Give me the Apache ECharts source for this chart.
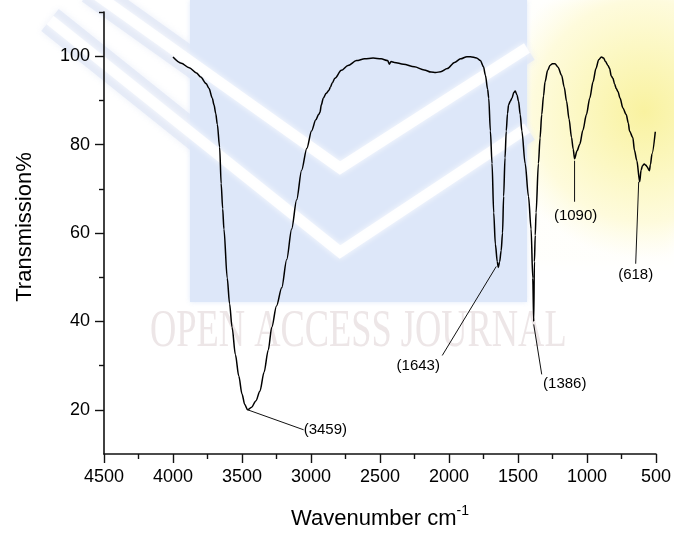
<!DOCTYPE html>
<html>
<head>
<meta charset="utf-8">
<script src="https://cdn.jsdelivr.net/npm/echarts@6/dist/echarts.min.js"></script>
<style>
  html, body { margin: 0; padding: 0; background: #ffffff; }
  #main { width: 674px; height: 535px; }
</style>
</head>
<body>
<div id="main"></div>
<script>
// FTIR spectrum: wavenumber (cm-1) against transmission (%)
const wavenumber = [
  4000, 3940, 3883, 3830, 3799, 3760, 3739, 3715, 3703, 3690, 3679, 3662, 3651, 3640, 3631,
  3607, 3590, 3572, 3548, 3523, 3500, 3480, 3459, 3430, 3400, 3370, 3340, 3310, 3284, 3250,
  3212, 3176, 3140, 3104, 3068, 3030, 2996, 2965, 2945, 2935, 2925, 2911, 2890, 2870, 2860,
  2845, 2827, 2780, 2732, 2670, 2611, 2550, 2492, 2445, 2431, 2420, 2396, 2330, 2251, 2180,
  2130, 2096, 2060, 2012, 1960, 1916, 1870, 1844, 1800, 1772, 1750, 1736, 1720, 1712, 1700,
  1688, 1676, 1664, 1650, 1643, 1633, 1622, 1612, 1604, 1594, 1585, 1576, 1568, 1556, 1544,
  1530, 1520, 1508, 1496, 1484, 1472, 1448, 1424, 1405, 1393, 1386, 1381, 1375, 1369, 1352,
  1340, 1328, 1315, 1304, 1285, 1268, 1250, 1232, 1210, 1184, 1165, 1148, 1130, 1112, 1100,
  1090, 1072, 1052, 1030, 1004, 980, 956, 935, 915, 896, 880, 866, 848, 836, 824,
  812, 800, 788, 776, 760, 740, 716, 700, 692, 668, 656, 639, 618, 608, 598,
  585, 572, 565, 548, 540, 529, 505
];
const transmission = [
  99.8, 98.4, 97.4, 96.2, 95.3, 93.8, 92.7, 90.5, 89.0, 87.0, 84.6, 79.4, 71.2, 65.5, 60.9,
  49.8, 44.0, 38.7, 32.5, 27.6, 23.6, 21.2, 20.0, 20.6, 22.0, 24.2, 28.5, 33.5, 38.7, 43.5,
  47.6, 54.0, 60.9, 67.5, 74.2, 79.2, 83.1, 85.6, 86.8, 87.3, 89.0, 90.5, 91.6, 92.3, 93.0,
  94.0, 95.0, 96.8, 97.9, 99.0, 99.4, 99.6, 99.4, 99.0, 98.2, 98.8, 98.6, 98.2, 97.6, 96.9,
  96.4, 96.3, 96.5, 97.2, 98.6, 99.4, 99.9, 99.9, 99.6, 99.0, 97.6, 95.7, 92.5, 90.5, 83.1,
  75.7, 64.6, 57.5, 53.5, 52.2, 53.5, 56.0, 60.0, 68.3, 77.0, 83.1, 87.0, 89.0, 89.8, 90.5,
  91.8, 92.1, 91.3, 89.8, 86.8, 83.1, 75.7, 68.3, 60.9, 49.8, 40.0, 53.5, 59.5, 64.6, 75.7,
  81.5, 86.8, 91.0, 94.2, 96.8, 97.9, 98.3, 98.3, 97.5, 95.7, 93.0, 89.8, 85.8, 81.6, 79.0,
  76.8, 78.6, 80.1, 83.2, 86.8, 90.5, 94.2, 97.2, 99.2, 99.8, 99.6, 98.8, 97.9, 97.2, 95.5,
  95.0, 93.7, 92.7, 92.0, 90.5, 88.3, 86.8, 84.8, 83.1, 81.6, 78.7, 76.4, 71.6, 74.2, 75.2,
  75.6, 75.3, 75.0, 74.1, 75.5, 77.9, 82.9
];

// Annotated absorption bands (wavenumbers as printed)
const peakBands = [3459, 1643, 1386, 1090, 618];

// Axis ticks
const xTicks = [4500, 4000, 3500, 3000, 2500, 2000, 1500, 1000, 500];
const yMajorTicks = [20, 40, 60, 80, 100];
const yMinorTicks = [30, 50, 70, 90, 110];

// Leader-line and label placement for each annotated band, in pixels from the band minimum
const peakCallouts = [
  { line: [0, 0, 56, 20],  text: [56, 20],  align: 'left' },
  { line: [-2, -1, -56, 88], text: [-80, 98], align: 'center' },
  { line: [0, 3, 8, 53],   text: [31, 62],  align: 'center' },
  { line: [0, 2, 0, 43],   text: [1, 57],   align: 'center' },
  { line: [-1, 0, -4, 82], text: [-4, 93],  align: 'center' }
];

const FONT = '"Liberation Sans", Arial, sans-serif';
const AXIS_COLOR = '#111111';

const chart = echarts.init(document.getElementById('main'), null, { renderer: 'canvas' });

const spectrum = wavenumber.map((w, i) => [w, transmission[i]]);

chart.setOption({
  animation: false,
  backgroundColor: '#ffffff',
  grid: { left: 104, right: 14, top: 12, bottom: 72, containLabel: false },
  xAxis: {
    type: 'value',
    min: 500,
    max: 4500,
    interval: 500,
    inverse: true,
    name: '{t|Wavenumber cm}{s|-1}',
    nameLocation: 'middle',
    nameGap: 44,
    nameTextStyle: {
      rich: {
        t: { fontFamily: FONT, fontSize: 22, color: '#000', padding: [10, 0, 0, 0] },
        s: { fontFamily: FONT, fontSize: 14, color: '#000', padding: [0, 0, 6, 0] }
      }
    },
    axisLine: { show: true, onZero: false, lineStyle: { color: AXIS_COLOR, width: 1.6 } },
    axisTick: { show: true, inside: false, length: 9, lineStyle: { color: AXIS_COLOR, width: 1.4 } },
    minorTick: { show: true, splitNumber: 2, length: 5, lineStyle: { color: AXIS_COLOR, width: 1.4 } },
    axisLabel: {
      margin: 14,
      fontFamily: FONT,
      fontSize: 18,
      color: '#000',
      customValues: xTicks,
      formatter: v => String(v)
    },
    splitLine: { show: false },
    minorSplitLine: { show: false }
  },
  yAxis: [
    {
      type: 'value',
      min: 10,
      max: 110,
      position: 'left',
      name: 'Transmission%',
      nameLocation: 'middle',
      nameRotate: 90,
      nameGap: 68,
      nameTextStyle: { fontFamily: FONT, fontSize: 22, color: '#000', padding: [0, 0, 0, 12] },
      axisLine: { show: true, onZero: false, lineStyle: { color: AXIS_COLOR, width: 1.6 } },
      axisTick: { show: true, inside: false, length: 9, customValues: yMajorTicks,
                  lineStyle: { color: AXIS_COLOR, width: 1.4 } },
      axisLabel: { margin: 14, fontFamily: FONT, fontSize: 18, color: '#000',
                   customValues: yMajorTicks, formatter: v => String(v) },
      splitLine: { show: false }
    },
    {
      type: 'value',
      min: 10,
      max: 110,
      position: 'left',
      axisLine: { show: false },
      axisTick: { show: true, inside: false, length: 5, customValues: yMinorTicks,
                  lineStyle: { color: AXIS_COLOR, width: 1.4 } },
      axisLabel: { show: false },
      splitLine: { show: false }
    }
  ],
  series: [
    {
      type: 'line',
      data: spectrum,
      showSymbol: false,
      symbol: 'none',
      smooth: 0.3,
      smoothMonotone: 'x',
      lineStyle: { color: '#000000', width: 1.5 },
      z: 5
    }
  ]
});

// Background journal watermark (decorative, drawn behind the plot)
function watermark() {
  const els = [];
  // pale yellow glow on the right
  els.push({
    type: 'rect', z: -20, silent: true,
    shape: { x: 526, y: 0, width: 148, height: 265 },
    style: {
      fill: {
        type: 'radial', x: 0.8, y: 0.42, r: 1.0,
        colorStops: [
          { offset: 0, color: 'rgba(249,242,160,1)' },
          { offset: 0.45, color: 'rgba(252,248,196,1)' },
          { offset: 0.75, color: 'rgba(254,251,220,0.95)' },
          { offset: 1, color: 'rgba(255,255,255,0.1)' }
        ]
      },
      shadowBlur: 10,
      shadowColor: 'rgba(254,251,220,0.9)'
    }
  });
  // faint lavender stripes along the chevron arms outside the panel
  const bands = [
    [[90, -10], [340, 168], [527, 48]],
    [[50, 20], [340, 252], [527, 128]]
  ];
  bands.forEach(pts => {
    els.push({
      type: 'polyline', z: -19, silent: true,
      shape: { points: pts },
      style: { stroke: 'rgba(226,232,246,0.8)', lineWidth: 28, fill: null, lineJoin: 'miter',
               shadowBlur: 6, shadowColor: 'rgba(226,232,246,0.8)' }
    });
  });
  // light blue panel
  els.push({
    type: 'rect', z: -18, silent: true,
    shape: { x: 190, y: 0, width: 337, height: 302 },
    style: { fill: '#dde7f9', shadowBlur: 5, shadowColor: 'rgba(221,231,249,0.9)' }
  });
  // white chevron bands
  bands.forEach(pts => {
    els.push({
      type: 'polyline', z: -17, silent: true,
      shape: { points: pts },
      style: { stroke: 'rgba(255,255,255,0.9)', lineWidth: 11, fill: null, lineJoin: 'miter',
               shadowBlur: 6, shadowColor: 'rgba(255,255,255,1)' }
    });
  });
  els.push({
    type: 'text', z: -16, silent: true,
    x: 150, y: 332, scaleX: 0.7, scaleY: 1,
    style: {
      text: 'OPEN ACCESS JOURNAL',
      fontFamily: '"Liberation Serif", "DejaVu Serif", serif',
      fontSize: 52,
      fill: 'rgba(220,205,208,0.5)',
      verticalAlign: 'middle',
      align: 'left',
      shadowBlur: 3,
      shadowColor: 'rgba(220,205,208,0.5)'
    }
  });
  return els;
}

// Peak callouts: leader lines and wavenumber labels anchored at each band minimum
function callouts() {
  const els = [];
  peakBands.forEach((band, k) => {
    const idx = wavenumber.indexOf(band);
    const p = chart.convertToPixel({ gridIndex: 0 }, [band, transmission[idx]]);
    const c = peakCallouts[k];
    els.push({
      type: 'line', z: 10, silent: true,
      shape: { x1: p[0] + c.line[0], y1: p[1] + c.line[1], x2: p[0] + c.line[2], y2: p[1] + c.line[3] },
      style: { stroke: '#111', lineWidth: 1 }
    });
    els.push({
      type: 'text', z: 10, silent: true,
      x: p[0] + c.text[0], y: p[1] + c.text[1],
      style: {
        text: '(' + band + ')',
        fontFamily: FONT, fontSize: 15, fill: '#000',
        align: c.align, verticalAlign: 'middle'
      }
    });
  });
  return els;
}

chart.setOption({ graphic: { elements: watermark().concat(callouts()) } });
</script>
</body>
</html>
